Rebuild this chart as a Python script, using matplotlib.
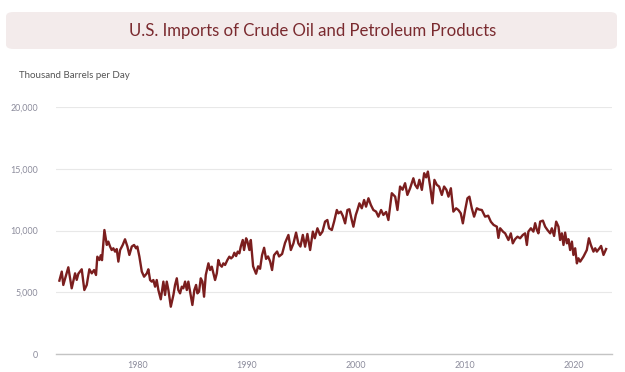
import matplotlib
matplotlib.use("Agg")
import matplotlib.pyplot as plt
from matplotlib.patches import FancyBboxPatch

plt.rcParams['font.family'] = ['Lato', 'DejaVu Sans']

# Monthly-ish readings (decimal year, thousand barrels per day)
years = [
    1972.81, 1973.03, 1973.17, 1973.63, 1973.94, 1974.25, 1974.40, 1974.55, 1974.86,
    1975.10, 1975.32, 1975.56, 1975.78, 1975.99, 1976.17, 1976.29, 1976.48, 1976.61,
    1976.72, 1976.94, 1977.16, 1977.30, 1977.46, 1977.61, 1977.76, 1977.92, 1978.07,
    1978.22, 1978.38, 1978.62, 1978.83, 1979.05, 1979.23, 1979.45, 1979.66, 1979.84,
    1979.96, 1980.15, 1980.37, 1980.58, 1980.83, 1980.97, 1981.13, 1981.28, 1981.43,
    1981.59, 1981.74, 1981.89, 1982.11, 1982.35, 1982.50, 1982.66, 1982.81, 1983.03,
    1983.27, 1983.42, 1983.58, 1983.72, 1983.88, 1984.04, 1984.18, 1984.34, 1984.50,
    1984.64, 1984.80, 1985.01, 1985.19, 1985.35, 1985.47, 1985.62, 1985.78, 1985.93,
    1986.08, 1986.24, 1986.48, 1986.63, 1986.79, 1986.94, 1987.09, 1987.25, 1987.39,
    1987.55, 1987.71, 1987.85, 1988.01, 1988.22, 1988.40, 1988.56, 1988.72, 1988.86,
    1989.02, 1989.17, 1989.32, 1989.45, 1989.63, 1989.75, 1989.94, 1990.06, 1990.24,
    1990.37, 1990.58, 1990.85, 1991.04, 1991.22, 1991.40, 1991.59, 1991.77, 1991.95,
    1992.14, 1992.32, 1992.50, 1992.78, 1992.96, 1993.24, 1993.51, 1993.82, 1994.04,
    1994.28, 1994.52, 1994.73, 1994.92, 1995.14, 1995.35, 1995.56, 1995.81, 1996.06,
    1996.24, 1996.48, 1996.72, 1996.94, 1997.18, 1997.39, 1997.55, 1997.80, 1998.01,
    1998.26, 1998.40, 1998.62, 1998.81, 1999.02, 1999.23, 1999.41, 1999.63, 1999.78,
    2000.00, 2000.15, 2000.33, 2000.55, 2000.76, 2000.94, 2001.16, 2001.38, 2001.61,
    2001.86, 2002.07, 2002.32, 2002.53, 2002.78, 2002.99, 2003.30, 2003.61, 2003.82,
    2004.06, 2004.29, 2004.52, 2004.73, 2004.98, 2005.28, 2005.44, 2005.65, 2005.83,
    2006.06, 2006.27, 2006.45, 2006.61, 2006.82, 2007.03, 2007.21, 2007.43, 2007.64,
    2007.89, 2008.10, 2008.31, 2008.50, 2008.72, 2008.95, 2009.20, 2009.41, 2009.63,
    2009.82, 2010.03, 2010.24, 2010.42, 2010.64, 2010.85, 2011.10, 2011.31, 2011.56,
    2011.86, 2012.14, 2012.39, 2012.64, 2012.94, 2013.08, 2013.24, 2013.51, 2013.70,
    2014.00, 2014.22, 2014.40, 2014.61, 2014.83, 2015.07, 2015.32, 2015.53, 2015.69,
    2015.83, 2016.06, 2016.29, 2016.45, 2016.61, 2016.75, 2016.91, 2017.16, 2017.37,
    2017.58, 2017.83, 2017.98, 2018.19, 2018.38, 2018.59, 2018.74, 2018.90, 2019.05,
    2019.20, 2019.36, 2019.50, 2019.66, 2019.82, 2019.96, 2020.12, 2020.28, 2020.42,
    2020.58, 2020.88, 2021.19, 2021.38, 2021.56, 2021.80, 2021.96, 2022.11, 2022.35,
    2022.50, 2022.72, 2022.96,
]
imports = [
    5940, 6670, 5590, 7020, 5320, 6530, 6000, 6500, 6860,
    5180, 5590, 6860, 6530, 6800, 6400, 7880, 7610, 8000,
    7600, 10040, 8830, 9100, 8700, 8420, 8560, 8290, 8500,
    7480, 8420, 8830, 9290, 8700, 8020, 8700, 8830, 8560,
    8700, 7880, 6670, 6260, 6530, 6860, 5990, 5860, 5990,
    5450, 5990, 5180, 4430, 5860, 4780, 5860, 5180, 3830,
    4780, 5590, 6130, 5180, 4910, 5450, 5320, 5860, 5180,
    5860, 5050, 3970, 5180, 5590, 4910, 5050, 6130, 5860,
    4640, 6400, 7340, 6800, 7070, 6530, 5990, 6530, 7610,
    7210, 7070, 7340, 7210, 7610, 7880, 7740, 7880, 8200,
    7930, 8290, 8150, 8700, 9230, 8420, 9370, 9100, 8420,
    9230, 7100, 6500, 7100, 6900, 8000, 8600, 7700, 7900,
    7500, 6800, 8000, 8300, 7900, 8100, 9000, 9640, 8420,
    8960, 9830, 8960, 8700, 9640, 8690, 9720, 8420, 9910,
    9370, 10180, 9640, 9910, 10720, 10850, 10180, 10040, 10720,
    11660, 11390, 11530, 11180, 10580, 11660, 11720, 10850, 10310,
    11260, 11660, 12200, 11800, 12470, 11930, 12610, 12070, 11660,
    11530, 11120, 11660, 11260, 11500, 10850, 13020, 12740, 11660,
    13560, 13300, 13830, 12880, 13420, 14230, 13700, 13420, 14100,
    13290, 14640, 14300, 14770, 13560, 12200, 14100, 13700, 13560,
    12880, 13560, 13300, 12740, 13420, 11530, 11800, 11660, 11390,
    10580, 11660, 12610, 12740, 11800, 11120, 11800, 11700, 11660,
    11120, 11200, 10710, 10450, 10310, 9400, 10180, 9900, 9770,
    9230, 9770, 8960, 9300, 9500, 9370, 9640, 9770, 8830,
    9910, 10180, 9910, 10590, 10040, 9770, 10720, 10800, 10310,
    10040, 9770, 10180, 9560, 10720, 10310, 9230, 9770, 8830,
    9830, 8960, 9300, 8420, 9100, 8020, 8560, 7340, 7750,
    7480, 7880, 8420, 9370, 8830, 8290, 8560, 8290, 8560,
    8750, 8020, 8500,
]

y_ticks = [0, 5000, 10000, 15000, 20000]
y_labels = ["0", "5,000", "10,000", "15,000", "20,000"]
x_ticks = [1980, 1990, 2000, 2010, 2020]

title = "U.S. Imports of Crude Oil and Petroleum Products"
unit_label = "Thousand Barrels per Day"

line_color = "#7b1e1e"
tick_color = "#8c8c9c"
grid_color = "#e8e8e8"

fig = plt.figure(figsize=(6.25, 3.72), dpi=100)
fig.patch.set_facecolor("white")

# title banner
banner = FancyBboxPatch((0.0096 + 0.008, 0.8683 + 0.008), 0.9776 - 0.016, 0.0994 - 0.016,
                        boxstyle="round,pad=0.008,rounding_size=0.012",
                        transform=fig.transFigure, facecolor="#f3ebeb",
                        edgecolor="none", zorder=0)
fig.patches.append(banner)
fig.text(0.5, 0.917, title, ha="center", va="center", fontsize=12.1,
         color="#7a2a2f")
fig.text(19 / 625, 1 - 75 / 372, unit_label, ha="left", va="center",
         fontsize=7, color="#555555")

ax = fig.add_axes([56 / 625, 1 - 354 / 372, (612 - 56) / 625, (354 - 107) / 372])
ax.plot(years, imports, color=line_color, linewidth=1.7, solid_joinstyle="round")

ax.set_xlim(1972.5, 2023.5)
ax.set_ylim(0, 20000)
ax.set_yticks(y_ticks)
ax.set_yticklabels(y_labels)
ax.set_xticks(x_ticks)
ax.set_xticklabels([str(t) for t in x_ticks])
ax.tick_params(axis="both", length=0, labelsize=6.4, colors=tick_color)
ax.tick_params(axis="y", pad=13)
ax.tick_params(axis="x", pad=5)

ax.grid(axis="y", color=grid_color, linewidth=0.8)
ax.set_axisbelow(True)
for side in ["top", "right", "left"]:
    ax.spines[side].set_visible(False)
ax.spines["bottom"].set_color("#c4c4c4")
ax.spines["bottom"].set_linewidth(1.0)

fig.savefig("out.png", dpi=100)
